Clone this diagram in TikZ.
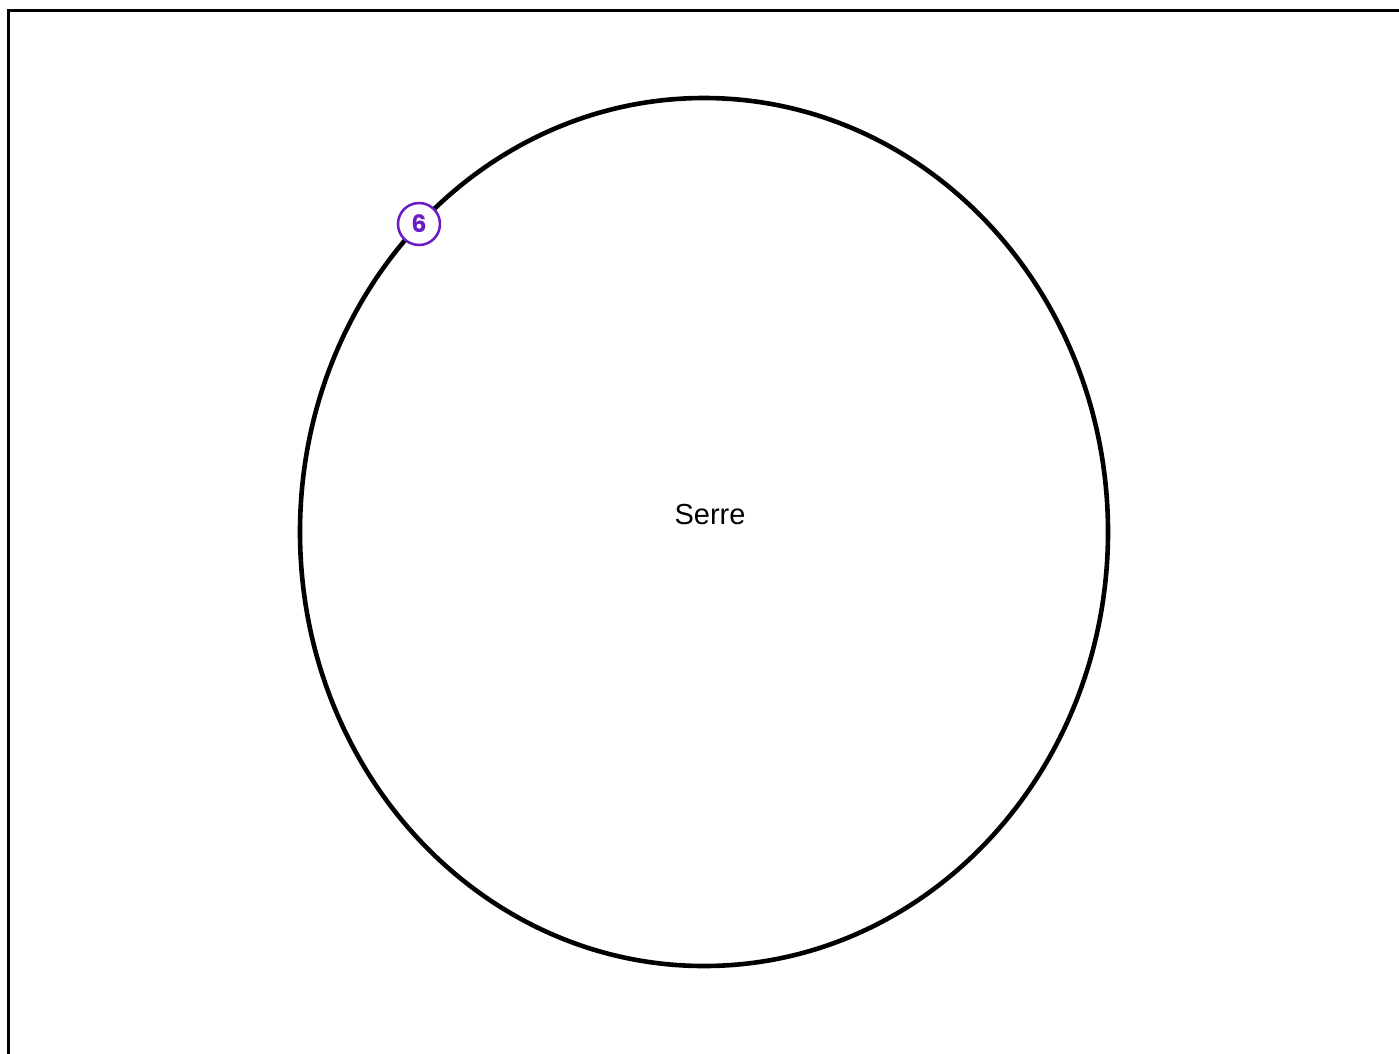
\documentclass[tikz,border=0pt]{standalone}
\usepackage{fontspec}
\setmainfont{Liberation Sans}
\newfontfamily\badgefont{Poppins}
\definecolor{badgepurple}{HTML}{6A1BC4}
\begin{document}
\begin{tikzpicture}[x=1pt,y=-1pt,
  frame/.style={line width=3pt,black},
  bigcircle/.style={draw=black,line width=4.6pt},
  badge/.style={circle,draw=badgepurple,line width=2.5pt,fill=white,minimum size=42pt,inner sep=0pt,text=badgepurple,font=\badgefont\bfseries\fontsize{24}{24}\selectfont},
  lbl/.style={font=\fontsize{29}{31}\selectfont}]
\useasboundingbox[fill=white] (0,0) rectangle (1399,1053);
\coordinate (tl) at (8.5,10.5);
\coordinate (tr) at (1400,10.5);
\coordinate (bl) at (8.5,1054);
\draw[frame] (tr) -- (tl) -- (bl);
\draw[bigcircle] (704,532) ellipse [x radius=404, y radius=434];
\node[lbl] (serre) at (710,515) {Serre};
\node[badge] (b6) at (419,224) {6};
\end{tikzpicture}
\end{document}
